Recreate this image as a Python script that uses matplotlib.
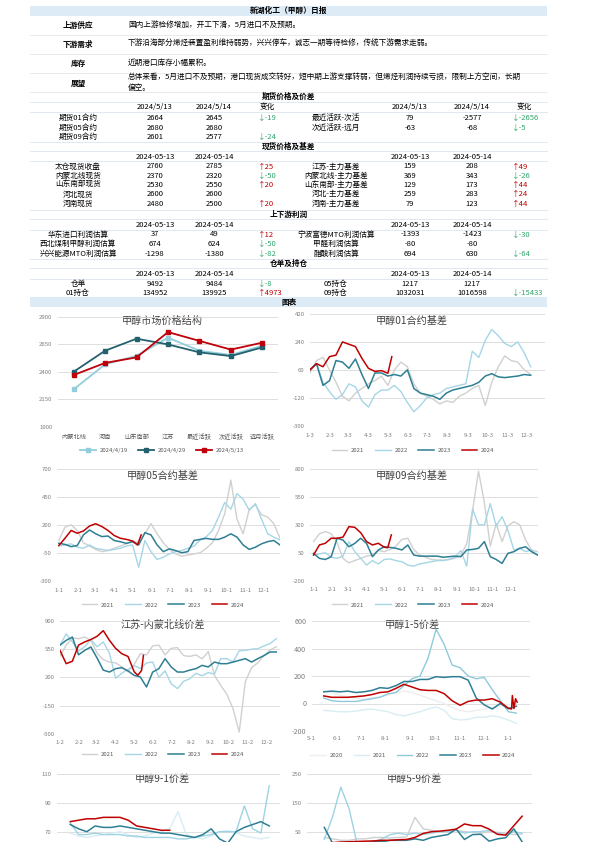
import matplotlib
matplotlib.use("Agg")
import matplotlib.pyplot as plt
from matplotlib.patches import Rectangle

plt.rcParams['font.family'] = ['Noto Sans CJK SC', 'DejaVu Sans']
plt.rcParams['axes.unicode_minus'] = False

# ---------------------------------------------------------------- data: text table
report_title = "新湖化工（甲醇）日报"
summary_labels = ["上游供应", "下游需求", "库存", "展望"]
summary_texts = [
    "国内上游检修增加，开工下滑，5月进口不及预期。",
    "下游沿海部分烯烃装置盈利维持弱势，兴兴停车，诚志一期等待检修，传统下游需求走弱。",
    "近期港口库存小幅累积。",
    "总体来看，5月进口不及预期，港口现货成交转好，短中期上游支撑转弱，但烯烃利润持续亏损，限制上方空间，长期\n偏空。",
]

fut_dates = ["2024/5/13", "2024/5/14"]
fut_left = ["期货01合约", "期货05合约", "期货09合约"]
fut_left_13 = [2664, 2680, 2601]
fut_left_14 = [2645, 2680, 2577]
fut_right = ["最近活跃-次活", "次近活跃-远月"]
fut_right_13 = [79, -63]
fut_right_14 = [-2577, -68]

day_dates = ["2024-05-13", "2024-05-14"]
spot_left = ["太仓现货收盘", "内蒙北线现货", "山东南部现货", "河北现货", "河南现货"]
spot_left_13 = [2760, 2370, 2530, 2600, 2480]
spot_left_14 = [2785, 2320, 2550, 2600, 2500]
spot_right = ["江苏-主力基差", "内蒙北线-主力基差", "山东南部-主力基差", "河北-主力基差", "河南-主力基差"]
spot_right_13 = [159, 369, 129, 259, 79]
spot_right_14 = [208, 343, 173, 283, 123]

prof_left = ["华东进口利润估算", "西北煤制甲醇利润估算", "兴兴能源MTO利润估算"]
prof_left_13 = [37, 674, -1298]
prof_left_14 = [49, 624, -1380]
prof_right = ["宁波富德MTO利润估算", "甲醛利润估算", "醋酸利润估算"]
prof_right_13 = [-1393, -80, 694]
prof_right_14 = [-1423, -80, 630]

wh_left = ["仓单", "01持仓"]
wh_left_13 = [9492, 134952]
wh_left_14 = [9484, 139925]
wh_right = ["05持仓", "09持仓"]
wh_right_13 = [1217, 1032031]
wh_right_14 = [1217, 1016598]

# ---------------------------------------------------------------- data: chart 1
struct_cats = ["内蒙北线", "河南", "山东南部", "江苏", "最近活跃", "次近活跃", "远月活跃"]
struct_0419 = [2240, 2467, 2545, 2709, 2591, 2552, 2636]
struct_0429 = [2400, 2591, 2700, 2648, 2576, 2542, 2621]
struct_0513 = [2370, 2480, 2530, 2760, 2680, 2601, 2664]
struct_labels = ["2024/4/19", "2024/4/29", "2024/5/13"]

# ---------------------------------------------------------------- data: chart 2 (01 basis)
b01_days = list(range(0, 341, 10))
b01_2021 = [40, 120, 140, 60, -20, -110, -140, -90, -60, -30, -10, 20, -40, 60, 110, 80, -30, -90,
            -110, -130, -160, -140, -150, -110, -90, -60, -40, -170, -20, 80, 150, 120, 110, 60, 30]
b01_2022 = [60, 100, -20, -80, -130, -100, -30, -50, -140, -180, -100, -70, -70, -40, -80, -150, -210,
            -170, -120, -100, -90, -60, -50, -40, -30, 180, 140, 250, 320, 280, 230, 210, 240, 170, 80]
b01_2023 = [60, 100, -40, -10, 120, 110, 70, 130, 30, -60, 40, 40, 20, 30, 20, 60, -60, -90, -100,
            -110, -130, -90, -70, -60, -50, -40, -20, 20, 35, 15, 10, 15, 20, 30, 25]
b01_2024_days = [0, 10, 20, 30, 40, 50, 60, 70, 80, 90, 100, 110, 120, 126]
b01_2024 = [60, 100, 80, 145, 155, 240, 225, 210, 134, 70, 50, 55, 38, 145]

# ---------------------------------------------------------------- data: chart 3 (05 basis)
b05_days = list(range(0, 361, 10))
b05_2021 = [60, 180, 200, 150, 40, 10, -20, -40, -30, -10, 10, 30, 60, 40, 120, 210, 120, 40, -20,
            -60, -80, -70, -60, -50, -10, 40, 150, 300, 600, 250, 120, 340, 380, 290, 270, 210, 80]
b05_2022 = [10, 20, 30, 0, -10, 20, -10, -20, -30, -20, -10, 10, 20, -180, 60, -40, -110, -90, -60,
            -40, -30, -10, 10, 64, 94, 150, 270, 400, 340, 480, 430, 330, 390, 250, 120, 90, 65]
b05_2023 = [35, 25, 5, 15, 110, 154, 120, 95, 100, 60, 49, 34, 49, 20, 130, 110, 20, -40, -15, -30,
            -50, -40, 60, 70, 79, 70, 70, 90, 120, 90, 20, -20, 0, 30, 50, 60, 20]
b05_2024_days = [0, 10, 20, 30, 40, 50, 60, 70, 80, 90, 100, 110, 120, 128, 134]
b05_2024 = [15, 80, 150, 125, 145, 190, 210, 185, 150, 105, 80, 70, 55, 20, 110]

# ---------------------------------------------------------------- data: chart 4 (09 basis)
b09_days = list(range(0, 381, 10))
b09_2021 = [150, 220, 240, 220, 140, 0, -40, -20, 0, 20, 30, 70, 60, 80, 110, 170, 180, 80, 30, 10,
            -10, -15, -15, -10, 0, 30, 130, 430, 780, 500, 110, 310, 150, 290, 328, 300, 164, 75, 60]
b09_2022 = [30, 40, 50, 10, 0, 20, 150, 60, 0, -60, -20, -50, -10, -5, -20, -30, -60, -70, -50, -40,
            -30, -20, -20, -10, 10, 70, -70, 440, 300, 300, 490, 290, 373, 250, 75, 90, 60, 75, 30]
b09_2023 = [45, 0, -10, 15, 180, 164, 104, 134, 180, 134, 15, 75, 104, 98, 90, 75, 120, 30, 20, 20,
            20, 20, 10, 15, 20, 15, 75, 80, 90, 150, 15, -10, -45, 45, 60, 90, 104, 60, 30]
b09_2024_days = [0, 10, 20, 30, 40, 50, 60, 70, 80, 90, 100, 110, 120, 126, 132]
b09_2024 = [30, 120, 135, 180, 180, 190, 284, 278, 230, 150, 120, 135, 100, 95, 210]

# ---------------------------------------------------------------- data: chart 5 (Jiangsu - Inner Mongolia)
js_days = list(range(0, 351, 10))
js_2021 = [460, 600, 690, 680, 700, 660, 500, 420, 390, 380, 330, 270, 360, 494, 480, 590, 600, 480,
           560, 570, 470, 460, 480, 430, 520, 225, 100, -10, -190, -480, 150, 320, 380, 470, 540, 580]
js_2022 = [600, 740, 640, 530, 580, 670, 580, 640, 500, 190, 250, 300, 345, 310, 380, 390, 200, 280,
           120, 60, 150, 183, 250, 220, 260, 240, 432, 432, 390, 530, 535, 550, 556, 590, 620, 680]
js_2023 = [600, 660, 700, 480, 535, 577, 440, 290, 266, 308, 320, 280, 225, 204, 80, 266, 308, 432,
           329, 266, 266, 290, 308, 349, 329, 390, 370, 370, 390, 411, 432, 390, 432, 470, 515, 515]
js_2024_days = [0, 10, 20, 30, 40, 50, 60, 70, 80, 90, 100, 110, 120, 126, 132, 135]
js_2024 = [535, 370, 400, 600, 640, 670, 710, 780, 660, 560, 494, 460, 270, 225, 287, 473]

# ---------------------------------------------------------------- data: chart 6 (1-5 spread)
s15_days = list(range(15, 256, 10))
s15_2020 = [90, 80, 60, 50, 40, 30, 40, 50, 60, 80, 90, 80, 60, 40, 20, 0, -30, -50, -60, -50, -40,
            -30, -20, -10, 0]
s15_2021 = [-50, -55, -60, -60, -55, -45, -40, -50, -60, -80, -90, -75, -60, -40, -25, -50, -110,
            -120, -115, -100, -100, -90, -100, -120, -145]
s15_2022 = [40, 20, 15, 15, 15, 25, 35, 45, 70, 80, 130, 180, 200, 330, 540, 430, 280, 260, 200, 180,
            190, 100, 20, -60, -70]
s15_2023 = [85, 90, 85, 90, 80, 85, 95, 115, 110, 130, 160, 160, 175, 175, 195, 190, 195, 195, 170,
            40, -10, -40, 0, -37, -20]
s15_2024_days = list(range(15, 246, 10)) + [249, 250, 252, 254, 256]
s15_2024 = [55, 45, 45, 45, 50, 55, 65, 80, 85, 110, 140, 120, 100, 95, 95, 72, 20, -13, 15, 25,
            25, 35, 10, -35, -40, 58, -37, 35, 10]

# ---------------------------------------------------------------- data: chart 7 (9-1 spread)
s91_days = list(range(0, 241, 10))
s91_2021 = [69, 67, 66, 67, 68, 69, 70, 68, 66, 67, 69, 70, 72, 84, 68, 66, 65, 67, 70, 71, 69, 67,
            66, 65, 66]
s91_2022 = [76, 68, 68, 69, 68, 68, 68, 67, 67, 66, 66, 66, 66, 65, 65, 66, 67, 68, 70, 70, 70, 88,
            72, 69, 102]
s91_2023 = [75, 72, 70, 74, 73, 73, 74, 73, 72, 71, 70, 69, 69, 68, 67, 66, 68, 72, 65, 62, 70, 73,
            75, 77, 74]
s91_2024_days = list(range(0, 121, 10))
s91_2024 = [77, 78, 79, 79, 80, 80, 80, 78, 74, 73, 72, 71, 71]

# ---------------------------------------------------------------- data: chart 8 (5-9 spread)
s59_days = list(range(0, 241, 10))
s59_2020 = [30, 25, 20, 20, 25, 25, 30, 30, 28, 30, 32, 100, 60, 55, 50, 52, 55, 50, 48, 45, 50, 48,
            45, 40, 42]
s59_2022 = [23, 102, 205, 131, 5, 10, 15, 25, 40, 45, 40, 45, 40, 45, 50, 50, 55, 45, 50, 50, 55, 45,
            40, 50, 45]
s59_2023 = [65, 10, 10, 10, 10, 12, 15, 15, 20, 20, 20, 25, 20, 30, 35, 40, 59, 23, 40, 41, 17, 25,
            29, 60, 15]
s59_2024 = [11, 12, 14, 15, 16, 17, 18, 20, 20, 22, 23, 30, 44, 50, 52, 55, 59, 77, 71, 71, 59, 41,
            38, 71, 104]

year_labels = ["2021", "2022", "2023", "2024"]
year_labels5 = ["2020", "2021", "2022", "2023", "2024"]

# ---------------------------------------------------------------- figure
W, H = 595, 842
fig = plt.figure(figsize=(W / 100, H / 100), dpi=100)
fig.patch.set_facecolor("white")
bg = fig.add_axes([0, 0, 1, 1])
bg.set_xlim(0, W)
bg.set_ylim(H, 0)
bg.axis("off")

BAND = "#DDEBF7"
SEP = "#DCE4EC"
RED = "#C00000"
GREEN = "#2EA66A"
FS = 5.5
TL, TR = 30, 547


def hline(y, color=SEP, lw=0.6):
    bg.plot([TL, TR], [y, y], color=color, lw=lw)


bg.add_patch(Rectangle((TL, 5.5), TR - TL, 10, color=BAND, lw=0))
bg.text(289, 10.5, report_title, ha="center", va="center", fontsize=5.6, weight="bold")

sum_y = [25, 44, 63, 83]
for lab, txt, y in zip(summary_labels, summary_texts, sum_y):
    bg.text(78, y, lab, ha="center", va="center", fontsize=FS, weight="bold")
    bg.text(128, y, txt, ha="left", va="center", fontsize=FS, linespacing=1.35)
for y in [35, 54, 72.5, 92]:
    hline(y, "#E6E6E6")


def change_text(x, y, a, b):
    d = b - a
    if d > 0:
        bg.text(x, y, f"↑{d}", ha="left", va="center", fontsize=FS, color=RED)
    elif d < 0:
        bg.text(x, y, f"↓{d}", ha="left", va="center", fontsize=FS, color=GREEN)


def section(title, y_head, dates, rows_y, L, L13, L14, R, R13, R14, change_head, lines):
    bg.text(289, y_head, title, ha="center", va="center", fontsize=FS, weight="bold")
    yd = y_head + 10.5
    bg.text(155, yd, dates[0], ha="center", va="center", fontsize=FS)
    bg.text(214, yd, dates[1], ha="center", va="center", fontsize=FS)
    bg.text(410, yd, dates[0], ha="center", va="center", fontsize=FS)
    bg.text(472, yd, dates[1], ha="center", va="center", fontsize=FS)
    if change_head:
        bg.text(267, yd, "变化", ha="center", va="center", fontsize=FS)
        bg.text(524, yd, "变化", ha="center", va="center", fontsize=FS)
    for y in lines:
        hline(y)
    for i, y in enumerate(rows_y):
        if i < len(L):
            bg.text(78, y, L[i], ha="center", va="center", fontsize=FS)
            bg.text(155, y, f"{L13[i]}", ha="center", va="center", fontsize=FS)
            bg.text(214, y, f"{L14[i]}", ha="center", va="center", fontsize=FS)
            change_text(258, y, L13[i], L14[i])
        if i < len(R):
            bg.text(336, y, R[i], ha="center", va="center", fontsize=FS)
            bg.text(410, y, f"{R13[i]}", ha="center", va="center", fontsize=FS)
            bg.text(472, y, f"{R14[i]}", ha="center", va="center", fontsize=FS)
            change_text(512, y, R13[i], R14[i])


section("期货价格及价差", 96.5, fut_dates, [118, 127.5, 137], fut_left, fut_left_13, fut_left_14,
        fut_right, fut_right_13, fut_right_14, True, [102, 112.3])
section("现货价格及基差", 146.5, day_dates, [166.5, 175.8, 185.1, 194.4, 203.7], spot_left,
        spot_left_13, spot_left_14, spot_right, spot_right_13, spot_right_14, False,
        [141.7, 151, 161])
section("上下游利润", 214.5, day_dates, [234.5, 244, 253.5], prof_left, prof_left_13, prof_left_14,
        prof_right, prof_right_13, prof_right_14, False, [209.8, 218.5, 229.5])
section("仓单及持仓", 263.3, day_dates, [284, 293], wh_left, wh_left_13, wh_left_14,
        wh_right, wh_right_13, wh_right_14, False, [258.8, 268, 278.5])

bg.add_patch(Rectangle((TL, 297), TR - TL, 10, color=BAND, lw=0))
bg.text(289, 302, "图表", ha="center", va="center", fontsize=FS, weight="bold")

# ---------------------------------------------------------------- charts
TICK_C = "#7F7F7F"
GRID_C = "#D9D9D9"
C21 = "#D0D0D0"
C22 = "#A6D6E6"
C23 = "#2E7F93"
C24 = "#C00000"


def new_ax(x0, yt, x1, yb, ylim, yticks, xlim, title, tx, ty):
    ax = fig.add_axes([x0 / W, 1 - yb / H, (x1 - x0) / W, (yb - yt) / H])
    ax.set_facecolor("none")
    ax.set_xlim(*xlim)
    ax.set_ylim(*ylim)
    ax.set_yticks(yticks)
    for s in ax.spines.values():
        s.set_visible(False)
    ax.grid(axis="y", color=GRID_C, lw=0.6)
    ax.set_axisbelow(True)
    ax.tick_params(length=0, labelsize=4.3, labelcolor=TICK_C, pad=4)
    bg.text(tx, ty, title, ha="center", va="center", fontsize=7.3, color="#404040")
    return ax


def add_legend(ax, cx, cy, ncol):
    ax.legend(loc="center", bbox_to_anchor=(cx / W, 1 - cy / H), bbox_transform=fig.transFigure,
              ncol=ncol, frameon=False, fontsize=4.3, handlelength=2.6, columnspacing=1.8,
              handletextpad=0.6, labelcolor="#595959")


def month_ticks(ax, positions, labels, pad):
    ax.set_xticks(positions)
    ax.set_xticklabels(labels)
    ax.tick_params(axis="x", pad=pad)


month_start = [0, 31, 59, 90, 120, 151, 181, 212, 243, 273, 304, 334]

# chart 1
t1 = [1900, 2150, 2400, 2650, 2900]
ax1 = new_ax(58, 316.7, 278, 426.7, (t1[0], t1[-1]), t1, (-0.5, 6.5), "甲醇市场价格结构", 162, 321)
xs = list(range(len(struct_cats)))
for vals, c, lab in [(struct_0419, "#92CDDC", struct_labels[0]),
                     (struct_0429, "#23616F", struct_labels[1]),
                     (struct_0513, "#C0000A", struct_labels[2])]:
    ax1.plot(xs, vals, color=c, lw=1.3, marker="s", ms=2.6, label=lab)
ax1.set_xticks(xs)
ax1.set_xticklabels(struct_cats)
ax1.tick_params(axis="x", pad=4.5, labelsize=4.5, labelcolor="#595959")
add_legend(ax1, 162, 450, 3)

# chart 2
t2 = [-300, -120, 60, 240, 420]
ax2 = new_ax(310, 314, 545, 425.7, (t2[0], t2[-1]), t2, (0, 362), "甲醇01合约基差", 412, 321)
ax2.plot(b01_days, b01_2021, color=C21, lw=1.0, label=year_labels[0])
ax2.plot(b01_days, b01_2022, color=C22, lw=1.0, label=year_labels[1])
ax2.plot(b01_days, b01_2023, color=C23, lw=1.1, label=year_labels[2])
ax2.plot(b01_2024_days, b01_2024, color=C24, lw=1.1, label=year_labels[3])
month_ticks(ax2, month_start, [f"{m}-3" for m in range(1, 13)], 5.5)
add_legend(ax2, 413, 450, 4)

# chart 3
t3 = [-300, -50, 200, 450, 700]
ax3 = new_ax(57, 469, 280, 580.7, (t3[0], t3[-1]), t3, (-3, 360), "甲醇05合约基差", 163, 476)
ax3.plot(b05_days, b05_2021, color=C21, lw=1.0, label=year_labels[0])
ax3.plot(b05_days, b05_2022, color=C22, lw=1.0, label=year_labels[1])
ax3.plot(b05_days, b05_2023, color=C23, lw=1.1, label=year_labels[2])
ax3.plot(b05_2024_days, b05_2024, color=C24, lw=1.1, label=year_labels[3])
month_ticks(ax3, month_start, [f"{m}-1" for m in range(1, 13)], 5)
add_legend(ax3, 163, 605, 4)

# chart 4
t4 = [-200, 50, 300, 550, 800]
ax4 = new_ax(310, 469, 538, 580.7, (t4[0], t4[-1]), t4, (-6, 381), "甲醇09合约基差", 412, 476)
ax4.plot(b09_days, b09_2021, color=C21, lw=1.0, label=year_labels[0])
ax4.plot(b09_days, b09_2022, color=C22, lw=1.0, label=year_labels[1])
ax4.plot(b09_days, b09_2023, color=C23, lw=1.1, label=year_labels[2])
ax4.plot(b09_2024_days, b09_2024, color=C24, lw=1.1, label=year_labels[3])
month_ticks(ax4, month_start, [f"{m}-1" for m in range(1, 13)], 4.5)
add_legend(ax4, 413, 605, 4)

# chart 5
t5 = [-500, -150, 200, 550, 900]
ax5 = new_ax(60, 621, 280, 733.7, (t5[0], t5[-1]), t5, (0, 356), "江苏-内蒙北线价差", 163, 625)
ax5.plot(js_days, js_2021, color=C21, lw=1.0, label=year_labels[0])
ax5.plot(js_days, js_2022, color=C22, lw=1.0, label=year_labels[1])
ax5.plot(js_days, js_2023, color=C23, lw=1.1, label=year_labels[2])
ax5.plot(js_2024_days, js_2024, color=C24, lw=1.1, label=year_labels[3])
month_ticks(ax5, month_start, [f"{m}-2" for m in range(1, 13)], 4.5)
add_legend(ax5, 163, 754, 4)

# chart 6
t6 = [-200, 0, 200, 400, 600]
ax6 = new_ax(311.7, 621, 530, 731, (t6[0], t6[-1]), t6, (0, 272), "甲醇1-5价差", 412, 625)
ax6.plot(s15_days, s15_2020, color="#EEEEEE", lw=1.0, label=year_labels5[0])
ax6.plot(s15_days, s15_2021, color="#D8EDF4", lw=1.0, label=year_labels5[1])
ax6.plot(s15_days, s15_2022, color="#8FCADB", lw=1.0, label=year_labels5[2])
ax6.plot(s15_days, s15_2023, color=C23, lw=1.1, label=year_labels5[3])
ax6.plot(s15_2024_days, s15_2024, color=C24, lw=1.1, label=year_labels5[4])
month_ticks(ax6, [0, 31, 61, 92, 123, 153, 184, 214, 245],
            ["5-1", "6-1", "7-1", "8-1", "9-1", "10-1", "11-1", "12-1", "1-1"], 3.5)
ax6.tick_params(axis="y", labelsize=5.2)
add_legend(ax6, 413, 755, 5)

# chart 7 (cut off by page: only the visible tick values are labelled)
ax7 = new_ax(57, 774.3, 280, 889.1, (30, 110), [70, 90, 110], (-16, 253), "甲醇9-1价差", 162, 779)
ax7.plot(s91_days, s91_2021, color="#D8EDF4", lw=1.0)
ax7.plot(s91_days, s91_2022, color="#9DD3E3", lw=1.0)
ax7.plot(s91_days, s91_2023, color=C23, lw=1.1)
ax7.plot(s91_2024_days, s91_2024, color=C24, lw=1.1)
ax7.set_xticks([])

# chart 8 (cut off by page)
ax8 = new_ax(307, 774.3, 532, 889.1, (-150, 250), [50, 150, 250], (-21, 252), "甲醇5-9价差", 414, 779)
ax8.plot(s59_days, s59_2020, color=C21, lw=1.0)
ax8.plot(s59_days, s59_2022, color="#9DD3E3", lw=1.0)
ax8.plot(s59_days, s59_2023, color=C23, lw=1.1)
ax8.plot(s59_days, s59_2024, color=C24, lw=1.1)
ax8.set_xticks([])

fig.savefig("out.png", dpi=100, facecolor="white")
